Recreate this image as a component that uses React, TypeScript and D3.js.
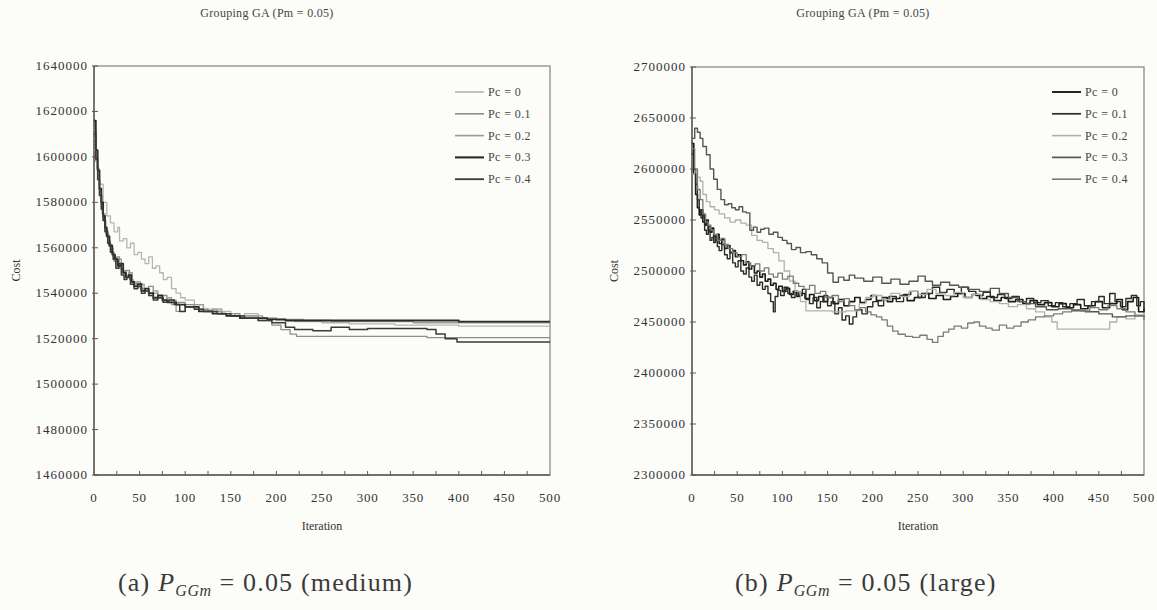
import React from "react";
import * as d3 from "d3";

// ---------- data (costs in thousands) ----------
const legendLabels = ["Pc = 0", "Pc = 0.1", "Pc = 0.2", "Pc = 0.3", "Pc = 0.4"];
const xTickLabels = [0, 50, 100, 150, 200, 250, 300, 350, 400, 450, 500];
const leftYTicks = [1460000, 1480000, 1500000, 1520000, 1540000, 1560000, 1580000, 1600000, 1620000, 1640000];
const rightYTicks = [2300000, 2350000, 2400000, 2450000, 2500000, 2550000, 2600000, 2650000, 2700000];

// medium problem
const medPc0: [number, number][] = [[0,1603],[3,1595],[6,1588],[10,1580],[14,1574],[18,1571],[22,1567],[26,1569],[28,1563],[32,1564],[36,1560],[40,1562],[44,1557],[48,1558],[52,1555],[56,1553],[60,1556],[64,1551],[68,1552],[72,1549],[76,1546],[80,1547],[85,1542],[90,1540],[95,1538],[100,1537],[110,1535],[120,1533],[135,1532],[150,1530],[165,1531],[180,1529],[200,1528],[220,1527.5],[250,1527],[280,1526.5],[330,1526],[400,1525.5],[500,1525.5]];
const medPc1: [number, number][] = [[0,1612],[2,1600],[4,1592],[6,1585],[8,1578],[10,1572],[13,1566],[16,1561],[19,1558],[22,1554],[25,1556],[28,1551],[31,1549],[35,1550],[39,1546],[43,1544],[47,1545],[51,1542],[55,1541],[60,1543],[65,1540],[70,1538],[75,1539],[80,1537],[90,1536],[100,1535],[110,1533],[125,1532],[140,1531],[160,1530],[180,1528],[195,1526],[205,1524],[215,1522],[222,1521],[365,1520.5],[500,1520.5]];
const medPc2: [number, number][] = [[0,1608],[2,1598],[4,1590],[6,1583],[9,1575],[12,1568],[15,1563],[18,1560],[21,1556],[24,1553],[27,1555],[30,1550],[34,1548],[38,1549],[42,1545],[46,1543],[50,1544],[55,1541],[60,1539],[65,1541],[70,1538],[75,1536],[80,1538],[85,1535],[90,1532],[100,1534],[110,1535],[120,1532],[130,1533],[140,1531],[155,1530],[170,1530],[185,1529],[200,1528.5],[230,1528],[260,1527.5],[300,1527.5],[350,1527],[500,1527]];
const medPc3: [number, number][] = [[0,1616],[2,1603],[4,1594],[6,1586],[8,1580],[10,1574],[12,1569],[14,1565],[17,1561],[20,1557],[23,1555],[26,1552],[29,1553],[32,1549],[35,1547],[38,1548],[41,1545],[44,1543],[48,1544],[52,1541],[56,1542],[60,1540],[65,1538],[70,1539],[75,1537],[80,1536],[90,1535],[100,1534],[115,1532],[130,1531],[145,1530],[160,1529],[175,1529],[190,1528.5],[210,1528],[240,1528],[280,1528],[320,1528],[400,1527.5],[500,1527.5]];
const medPc4: [number, number][] = [[0,1610],[2,1599],[4,1590],[6,1583],[8,1577],[10,1572],[12,1567],[15,1562],[18,1558],[21,1555],[24,1551],[27,1553],[30,1548],[33,1546],[36,1547],[40,1544],[44,1542],[48,1543],[52,1540],[56,1541],[60,1539],[65,1537],[70,1538],[76,1536],[82,1537],[88,1535],[94,1532],[100,1534],[110,1533],[120,1532],[135,1531],[150,1530],[165,1529],[180,1528],[195,1527],[210,1525],[220,1524],[240,1523.5],[260,1525],[280,1524],[300,1524.5],[330,1524.5],[350,1524.5],[365,1524],[375,1522],[385,1520],[398,1518.5],[500,1518.5]];

// large problem
const largePc0: [number, number][] = [[0,2625],[2,2595],[4,2575],[6,2562],[8,2555],[10,2560],[12,2548],[14,2545],[16,2550],[18,2540],[20,2538],[22,2542],[24,2534],[26,2530],[28,2536],[30,2527],[33,2531],[36,2522],[39,2525],[42,2518],[45,2520],[48,2514],[51,2516],[54,2510],[57,2506],[60,2509],[63,2502],[66,2505],[69,2498],[72,2500],[75,2494],[78,2497],[81,2490],[84,2492],[87,2486],[90,2488],[93,2482],[96,2485],[100,2480],[104,2483],[108,2477],[112,2480],[116,2475],[120,2478],[125,2473],[130,2477],[135,2471],[140,2475],[145,2470],[150,2474],[156,2468],[162,2472],[168,2466],[174,2470],[180,2474],[186,2469],[192,2472],[198,2476],[204,2471],[210,2474],[216,2470],[222,2473],[230,2476],[238,2471],[246,2474],[254,2478],[262,2473],[270,2476],[278,2472],[286,2475],[294,2478],[302,2474],[310,2477],[318,2473],[326,2475],[334,2471],[342,2474],[350,2470],[358,2472],[366,2468],[374,2471],[382,2467],[390,2469],[398,2465],[406,2468],[414,2464],[422,2467],[430,2463],[438,2466],[446,2470],[454,2464],[462,2468],[470,2472],[476,2462],[482,2470],[488,2474],[494,2460],[500,2463]];
const largePc1: [number, number][] = [[0,2615],[2,2600],[4,2585],[6,2570],[8,2560],[10,2552],[12,2555],[14,2540],[16,2536],[18,2544],[20,2530],[22,2533],[24,2528],[26,2534],[28,2524],[30,2520],[33,2526],[36,2516],[39,2512],[42,2518],[45,2508],[48,2504],[51,2510],[54,2500],[57,2497],[60,2503],[63,2494],[66,2490],[69,2496],[72,2486],[75,2489],[78,2482],[81,2485],[84,2478],[87,2470],[90,2460],[92,2475],[95,2481],[98,2476],[102,2484],[106,2478],[110,2474],[114,2480],[118,2476],[122,2482],[126,2472],[130,2468],[134,2474],[138,2464],[142,2470],[146,2476],[150,2466],[154,2470],[158,2458],[162,2464],[166,2452],[170,2456],[174,2448],[178,2455],[182,2462],[188,2458],[194,2465],[200,2470],[206,2466],[212,2472],[218,2475],[226,2470],[234,2477],[242,2480],[250,2474],[258,2478],[266,2484],[274,2479],[282,2482],[290,2478],[298,2484],[306,2480],[314,2476],[322,2479],[330,2474],[338,2477],[346,2473],[354,2475],[362,2470],[370,2473],[378,2469],[386,2471],[394,2466],[402,2469],[410,2465],[418,2468],[426,2472],[434,2466],[442,2470],[450,2475],[456,2468],[462,2478],[468,2470],[474,2465],[480,2473],[486,2476],[492,2466],[496,2470],[500,2461]];
const largePc2: [number, number][] = [[0,2595],[3,2598],[6,2592],[9,2588],[12,2575],[16,2568],[20,2563],[25,2560],[30,2556],[36,2552],[42,2548],[48,2550],[54,2547],[60,2545],[66,2535],[72,2530],[78,2528],[84,2522],[90,2518],[96,2510],[102,2500],[108,2490],[114,2480],[120,2470],[126,2461],[140,2461],[155,2460],[170,2461],[178,2461],[185,2468],[192,2474],[200,2476],[210,2472],[220,2478],[230,2475],[240,2480],[250,2477],[260,2482],[270,2478],[280,2476],[290,2479],[300,2474],[310,2477],[320,2472],[330,2470],[340,2468],[350,2465],[360,2467],[370,2463],[380,2460],[390,2455],[398,2450],[404,2443],[430,2443],[455,2443],[462,2450],[470,2455],[480,2453],[490,2457],[500,2455]];
const largePc3: [number, number][] = [[0,2630],[3,2640],[6,2636],[9,2630],[12,2622],[16,2614],[20,2600],[24,2590],[28,2580],[32,2570],[36,2565],[40,2566],[44,2562],[48,2560],[52,2563],[56,2558],[60,2557],[64,2540],[68,2543],[72,2538],[76,2541],[80,2542],[85,2536],[90,2538],[95,2533],[100,2530],[105,2527],[110,2521],[115,2523],[120,2518],[126,2519],[132,2516],[138,2512],[144,2508],[150,2498],[156,2489],[162,2494],[168,2491],[174,2496],[180,2493],[190,2490],[200,2494],[210,2488],[220,2492],[230,2487],[240,2490],[250,2495],[258,2490],[266,2486],[275,2489],[285,2486],[295,2484],[305,2482],[318,2480],[330,2483],[340,2478],[350,2474],[360,2470],[370,2468],[380,2465],[392,2462],[405,2463],[420,2461],[435,2460],[450,2458],[465,2455],[480,2456],[500,2455]];
const largePc4: [number, number][] = [[0,2620],[3,2600],[6,2580],[9,2570],[12,2556],[15,2548],[18,2545],[21,2540],[24,2536],[28,2530],[32,2532],[36,2526],[40,2522],[45,2518],[50,2514],[55,2516],[60,2508],[65,2505],[70,2507],[75,2500],[80,2503],[85,2497],[90,2494],[95,2498],[100,2492],[106,2495],[112,2488],[118,2485],[124,2482],[130,2486],[136,2478],[142,2480],[148,2474],[155,2476],[162,2470],[168,2473],[174,2466],[180,2462],[186,2464],[192,2460],[198,2457],[204,2455],[210,2452],[216,2446],[222,2441],[228,2438],[236,2436],[244,2435],[252,2437],[260,2433],[266,2430],[272,2436],[278,2440],[284,2443],[290,2446],[298,2444],[305,2449],[312,2450],[318,2446],[325,2444],[332,2442],[340,2447],[348,2444],[356,2446],[364,2450],[372,2452],[380,2455],[390,2456],[400,2458],[410,2460],[420,2462],[430,2461],[440,2464],[450,2462],[460,2466],[470,2463],[480,2460],[490,2456],[500,2452]];

const medSeries = [medPc0, medPc1, medPc2, medPc3, medPc4];
const largeSeries = [largePc0, largePc1, largePc2, largePc3, largePc4];

const medColors = ["#b4b4b4", "#8c8c8c", "#9a9a9a", "#2a2a2a", "#3a3a3a"];
const medWidths = [1.3, 1.3, 1.3, 1.8, 1.5];
const largeColors = ["#1a1a1a", "#2a2a2a", "#b0b0b0", "#555555", "#7a7a7a"];
const largeWidths = [1.6, 1.4, 1.3, 1.4, 1.3];

const SERIF = "'Liberation Serif', 'Times New Roman', serif";

type PanelProps = {
  left: number; right: number; top: number; bottom: number;
  yDomain: [number, number]; yTicks: number[];
  series: [number, number][][]; colors: string[]; widths: number[];
  title: string; titleX: number;
  legendX: number; costX: number;
};

function Panel(p: PanelProps) {
  const x = d3.scaleLinear().domain([0, 500]).range([p.left, p.right]);
  const y = d3.scaleLinear().domain(p.yDomain).range([p.bottom, p.top]);
  const line = d3
    .line<[number, number]>()
    .x((d) => x(d[0]))
    .y((d) => y(d[1] * 1000))
    .curve(d3.curveStepAfter);
  const minor = d3.range(25, 500, 25);
  const axisCol = "#5a5a5a";
  return (
    <g>
      <text x={p.titleX} y={17} textAnchor="middle" fontFamily={SERIF} fontSize={12} fill="#444" letterSpacing={0.3}>
        {p.title}
      </text>
      <rect x={p.left} y={p.top} width={p.right - p.left} height={p.bottom - p.top} fill="none" stroke="#8a8a8a" strokeWidth={1.3} />
      <line x1={p.left} x2={p.left} y1={p.top} y2={p.bottom} stroke={axisCol} strokeWidth={1.4} />
      <line x1={p.left} x2={p.right} y1={p.bottom} y2={p.bottom} stroke={axisCol} strokeWidth={1.4} />
      {p.yTicks.map((t) => (
        <g key={t}>
          <line x1={p.left - 2} x2={p.left + 4} y1={y(t)} y2={y(t)} stroke={axisCol} strokeWidth={1} />
          <text x={p.left - 6} y={y(t) + 4} textAnchor="end" fontFamily={SERIF} fontSize={13} fill="#333" letterSpacing={1}>
            {t}
          </text>
        </g>
      ))}
      {minor.map((t) => (
        <line key={t} x1={x(t)} x2={x(t)} y1={p.bottom} y2={p.bottom - 4} stroke={axisCol} strokeWidth={1} />
      ))}
      {xTickLabels.map((t) => (
        <text key={t} x={x(t)} y={p.bottom + 27} textAnchor="middle" fontFamily={SERIF} fontSize={13} fill="#333" letterSpacing={0.8}>
          {t}
        </text>
      ))}
      <text x={(p.left + p.right) / 2} y={p.bottom + 55} textAnchor="middle" fontFamily={SERIF} fontSize={12} fill="#333">
        Iteration
      </text>
      <text transform={`translate(${p.costX},${(p.top + p.bottom) / 2}) rotate(-90)`} textAnchor="middle" fontFamily={SERIF} fontSize={12} fill="#333">
        Cost
      </text>
      {p.series.map((s, i) => (
        <path key={i} d={line(s) || ""} fill="none" stroke={p.colors[i]} strokeWidth={p.widths[i]} strokeLinejoin="round" />
      ))}
      {legendLabels.map((l, i) => {
        const ly = 92 + i * 21.8;
        return (
          <g key={l}>
            <line x1={p.legendX} x2={p.legendX + 29} y1={ly} y2={ly} stroke={p.colors[i]} strokeWidth={p.widths[i] + 0.3} />
            <text x={p.legendX + 33} y={ly + 4} fontFamily={SERIF} fontSize={12} fill="#444" letterSpacing={0.4}>
              {l}
            </text>
          </g>
        );
      })}
    </g>
  );
}

function Caption({ x, label, tail }: { x: number; label: string; tail: string }) {
  return (
    <text x={x} y={591} fontFamily={SERIF} fontSize={26} fill="#3a3a3a" letterSpacing={1.2}>
      {label + " "}
      <tspan fontStyle="italic">P</tspan>
      <tspan fontStyle="italic" fontSize={16} dy={5} letterSpacing={0.6}>GGm</tspan>
      <tspan dy={-5}>{" = 0.05 " + tail}</tspan>
    </text>
  );
}

export default function App() {
  return (
    <svg width={1157} height={610} style={{ position: "absolute", left: 0, top: 0, background: "#fcfcf9" }}>
      <rect x={0} y={0} width={1157} height={610} fill="#fcfcf9" />
      <Panel
        left={94} right={550} top={66} bottom={475}
        yDomain={[1460000, 1640000]} yTicks={leftYTicks}
        series={medSeries} colors={medColors} widths={medWidths}
        title="Grouping GA (Pm = 0.05)" titleX={267}
        legendX={455} costX={20}
      />
      <Panel
        left={692} right={1144} top={67} bottom={475}
        yDomain={[2300000, 2700000]} yTicks={rightYTicks}
        series={largeSeries} colors={largeColors} widths={largeWidths}
        title="Grouping GA (Pm = 0.05)" titleX={863}
        legendX={1052} costX={618}
      />
      <Caption x={118} label="(a)" tail="(medium)" />
      <Caption x={735} label="(b)" tail="(large)" />
    </svg>
  );
}
